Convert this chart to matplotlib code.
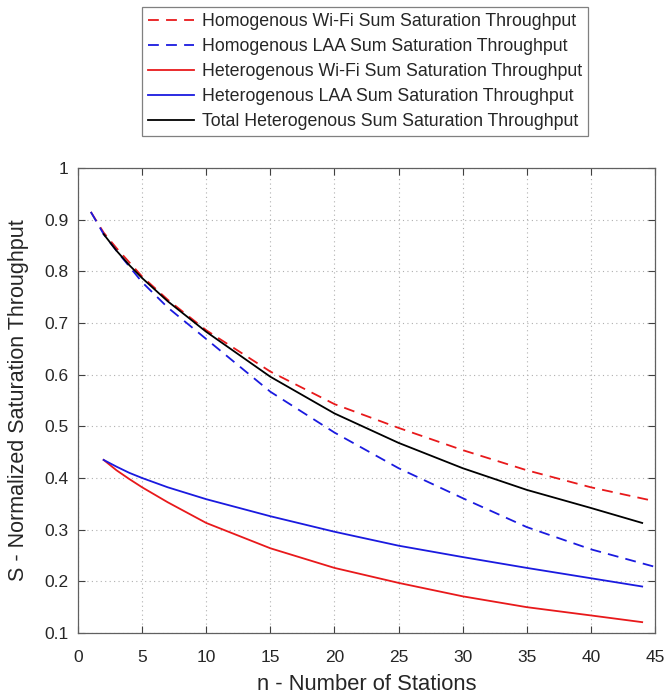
import matplotlib
matplotlib.use("Agg")
import matplotlib.pyplot as plt

plt.rcParams['font.family'] = ['Liberation Sans', 'DejaVu Sans']

# Homogeneous curves (n = 1..45)
n_homo = [1, 2, 3, 5, 7, 10, 15, 20, 25, 30, 35, 40, 45]
homo_wifi = [0.915, 0.875, 0.845, 0.790, 0.745, 0.686, 0.606, 0.543, 0.497, 0.454, 0.415, 0.382, 0.355]
homo_laa = [0.915, 0.872, 0.840, 0.779, 0.730, 0.669, 0.567, 0.488, 0.419, 0.361, 0.305, 0.262, 0.228]

# Heterogeneous curves (n = 2..44)
n_het = [2, 3, 4, 5, 7, 10, 15, 20, 25, 30, 35, 40, 44]
het_wifi = [0.435, 0.415, 0.398, 0.382, 0.353, 0.313, 0.264, 0.226, 0.197, 0.171, 0.150, 0.134, 0.121]
het_laa = [0.435, 0.422, 0.410, 0.400, 0.382, 0.359, 0.326, 0.296, 0.269, 0.247, 0.226, 0.206, 0.190]
het_total = [0.872, 0.840, 0.812, 0.787, 0.742, 0.683, 0.596, 0.525, 0.468, 0.419, 0.377, 0.342, 0.313]

labels = [
    "Homogenous Wi-Fi Sum Saturation Throughput",
    "Homogenous LAA Sum Saturation Throughput",
    "Heterogenous Wi-Fi Sum Saturation Throughput",
    "Heterogenous LAA Sum Saturation Throughput",
    "Total Heterogenous Sum Saturation Throughput",
]

xticks = list(range(0, 50, 5))
yticks = [0.1, 0.2, 0.3, 0.4, 0.5, 0.6, 0.7, 0.8, 0.9, 1.0]
yticklabels = ["0.1", "0.2", "0.3", "0.4", "0.5", "0.6", "0.7", "0.8", "0.9", "1"]

fig = plt.figure(figsize=(6.67, 6.98), dpi=100)
ax = fig.add_axes([78/667, 1-633/698, (655-78)/667, (633-168)/698])

red = '#e8191b'
blue = '#1a1adf'
ax.plot(n_homo, homo_wifi, '--', color=red, lw=1.3, dashes=(6, 4), label=labels[0])
ax.plot(n_homo, homo_laa, '--', color=blue, lw=1.3, dashes=(6, 4), label=labels[1])
ax.plot(n_het, het_wifi, '-', color=red, lw=1.3, label=labels[2])
ax.plot(n_het, het_laa, '-', color=blue, lw=1.3, label=labels[3])
ax.plot(n_het, het_total, '-', color='black', lw=1.3, label=labels[4])

ax.set_xlim(0, 45)
ax.set_ylim(0.1, 1.0)
ax.set_xticks(xticks)
ax.set_yticks(yticks)
ax.set_yticklabels(yticklabels)
ax.grid(True, linestyle=(0, (1, 3)), color='#b0b0b0', lw=0.8)
ax.tick_params(direction='in', top=True, right=True, length=5, colors='#404040',
               labelsize=12.5, labelcolor='#262626')
ax.tick_params(axis='x', pad=12)
ax.tick_params(axis='y', pad=7)
for s in ax.spines.values():
    s.set_color('#606060')
    s.set_linewidth(0.9)

ax.set_xlabel("n - Number of Stations", fontsize=15.8, color='#262626', labelpad=7)
ax.set_ylabel("S - Normalized Saturation Throughput", fontsize=15.5, color='#262626', labelpad=11)

handles, lbls = ax.get_legend_handles_labels()
leg = fig.legend(handles, lbls, loc='upper center', bbox_to_anchor=(365/667, 1-7/698),
                 fontsize=12.8, frameon=True, fancybox=False, edgecolor='#606060',
                 handlelength=2.6, handletextpad=0.4, labelspacing=0.45, borderpad=0.35,
                 borderaxespad=0)
leg.get_frame().set_linewidth(0.9)
for t in leg.get_texts():
    t.set_color('#262626')

fig.savefig("out.png", dpi=100)
